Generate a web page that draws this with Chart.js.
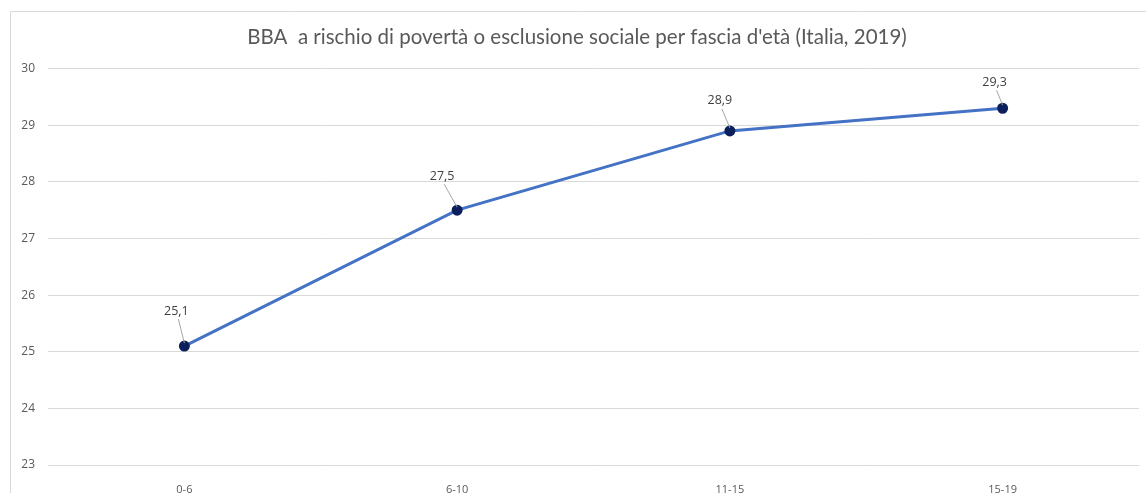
<!DOCTYPE html>
<html>
<head>
<meta charset="utf-8">
<script src="https://cdn.jsdelivr.net/npm/chart.js@4"></script>
<style>
  html, body { margin: 0; padding: 0; background: #fff; }
  #wrap { width: 1146px; height: 493px; position: relative; }
</style>
</head>
<body>
<div id="wrap"><canvas id="chart" width="1146" height="493"></canvas></div>
<script>
// dati
const fasce = ['0-6', '6-10', '11-15', '15-19'];
const valori = [25.1, 27.5, 28.9, 29.3];
const yMin = 23;
const yMax = 30;

// spostamento etichette rispetto al punto (px)
const labelOffsets = [[-8, -35], [-15, -34], [-10, -30], [-8, -26]];

const grigio = '#595959';

// cornice del grafico
const cornice = {
    id: 'cornice',
    beforeDraw(chart) {
        const ctx = chart.ctx;
        ctx.save();
        ctx.strokeStyle = '#d9d9d9';
        ctx.lineWidth = 1;
        ctx.beginPath();
        ctx.moveTo(10.5, 600);
        ctx.lineTo(10.5, 11.5);
        ctx.lineTo(1200, 11.5);
        ctx.stroke();
        ctx.restore();
    }
};

// etichette dati con linea di richiamo
const etichette = {
    id: 'etichette',
    afterDatasetsDraw(chart) {
        const ctx = chart.ctx;
        const meta = chart.getDatasetMeta(0);
        ctx.save();
        ctx.font = '12.5px "Open Sans", sans-serif';
        ctx.textAlign = 'center';
        ctx.textBaseline = 'middle';
        meta.data.forEach((pt, i) => {
            const [dx, dy] = labelOffsets[i];
            const lx = pt.x + dx;
            const ly = pt.y + dy;
            ctx.strokeStyle = '#a6a6a6';
            ctx.lineWidth = 1;
            ctx.beginPath();
            ctx.moveTo(lx + 2, ly + 8);
            ctx.lineTo(pt.x, pt.y - 3);
            ctx.stroke();
            ctx.fillStyle = '#404040';
            ctx.fillText(valori[i].toFixed(1).replace('.', ','), lx, ly);
        });
        ctx.restore();
    }
};

new Chart(document.getElementById('chart'), {
    type: 'line',
    data: {
        labels: fasce,
        datasets: [{
            data: valori,
            borderColor: '#4472c4',
            borderWidth: 3,
            pointRadius: 4,
            pointHoverRadius: 4,
            pointBackgroundColor: '#0b1f5c',
            pointBorderColor: '#0b1f5c',
            tension: 0
        }]
    },
    options: {
        responsive: false,
        animation: false,
        layout: { padding: { left: 12, right: 4, top: 0, bottom: 0 } },
        plugins: {
            legend: { display: false },
            tooltip: { enabled: false },
            title: {
                display: true,
                text: "BBA  a rischio di povertà o esclusione sociale per fascia d'età (Italia, 2019)",
                color: grigio,
                font: { family: 'Lato', size: 20.5, weight: 'normal', lineHeight: 1.2 },
                padding: { top: 25, bottom: 19 }
            }
        },
        scales: {
            x: {
                offset: true,
                grid: { display: false },
                border: { display: false },
                ticks: { color: grigio, font: { family: '"Open Sans"', size: 11 }, padding: 10 },
                afterFit(axis) { axis.height = 28; }
            },
            y: {
                min: yMin,
                max: yMax,
                grid: { color: '#d9d9d9', drawTicks: false },
                border: { display: false },
                ticks: { stepSize: 1, color: grigio, font: { family: '"Open Sans"', size: 12 }, padding: 13 },
                afterFit(axis) { axis.width = 36; }
            }
        }
    },
    plugins: [cornice, etichette]
});
</script>
</body>
</html>
